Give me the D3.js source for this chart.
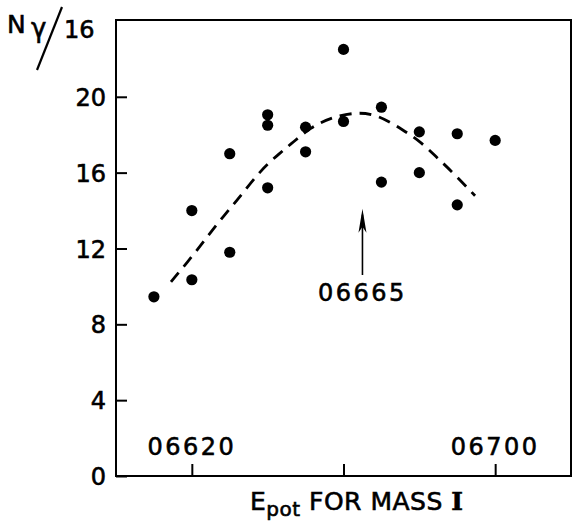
<!DOCTYPE html>
<html>
<head>
<meta charset="utf-8">
<script src="https://cdn.jsdelivr.net/npm/d3@7"></script>
<style>
  body { margin: 0; background: #fff; }
  svg { display: block; }
  text { font-family: "DejaVu Sans", sans-serif; fill: #000; stroke: #000; stroke-width: 0.6px; }
</style>
</head>
<body>
<svg id="chart"></svg>
<script>
// measured points (E_pot, N_gamma/16)
var epot = [6610, 6620, 6620, 6630, 6630, 6640, 6640, 6640, 6650, 6650,
            6660, 6660, 6670, 6670, 6680, 6680, 6690, 6690, 6700];
var ngamma = [9.45, 10.35, 14.0, 11.8, 17.0, 15.2, 18.5, 19.05, 17.1, 18.4,
              22.5, 18.7, 19.45, 15.5, 18.15, 16.0, 18.05, 14.3, 17.7];

// dashed trend curve
var curveX = [6614.5, 6620, 6624, 6628.2, 6632.7, 6638, 6643.3, 6647, 6651.2, 6656.5,
              6663.5, 6669, 6675.7, 6680.7, 6684.7, 6688.7, 6694.7];
var curveY = [10.24, 11.56, 12.6, 13.67, 14.72, 16.1, 17.05, 17.65, 18.36, 18.9,
              19.2, 19.05, 18.26, 17.57, 16.78, 16.04, 14.78];

var yTicks = [0, 4, 8, 12, 16, 20];
var xTicks = [6620, 6660, 6700];
var xTickLabels = ["06620", "", "06700"];

var marker = { x: 6665, y0: 10.6, y1: 14.1, label: "06665" };

var width = 573, height = 521;
var plotLeft = 116, plotTop = 20, plotRight = 571, plotBottom = 476;

var svg = d3.select("#chart")
  .attr("width", width)
  .attr("height", height);

var x = d3.scaleLinear().domain([6600, 6720]).range([plotLeft, plotRight]);
var y = d3.scaleLinear().domain([0, 24.05]).range([plotBottom, plotTop]);

// frame
svg.append("rect")
  .attr("x", plotLeft).attr("y", plotTop)
  .attr("width", plotRight - plotLeft).attr("height", plotBottom - plotTop)
  .attr("fill", "none").attr("stroke", "#000").attr("stroke-width", 2);

// y axis, ticks pointing in
var yAxis = svg.append("g")
  .attr("transform", "translate(" + plotLeft + ",0)")
  .call(d3.axisLeft(y).tickValues(yTicks).tickSize(-11).tickSizeOuter(0).tickPadding(10));
yAxis.select(".domain").remove();
yAxis.selectAll("line").attr("stroke-width", 2);
yAxis.selectAll("text")
  .style("font-family", "DejaVu Sans")
  .style("font-size", "24px")
  .attr("dy", "0.36em");

// x axis, ticks pointing up, labels inside the frame
var xAxis = svg.append("g")
  .attr("transform", "translate(0," + plotBottom + ")")
  .call(d3.axisBottom(x).tickValues(xTicks).tickSize(-12).tickSizeOuter(0).tickFormat(""));
xAxis.select(".domain").remove();
xAxis.selectAll("line").attr("stroke-width", 2);

svg.selectAll(".xlab")
  .data(xTicks)
  .enter()
  .append("text")
  .attr("class", "xlab")
  .attr("x", function (d) { return x(d); })
  .attr("y", plotBottom - 21)
  .attr("text-anchor", "middle")
  .style("font-size", "24px")
  .style("letter-spacing", "2.5px")
  .text(function (d, i) { return xTickLabels[i]; });

// dashed curve
var line = d3.line()
  .x(function (d, i) { return x(curveX[i]); })
  .y(function (d, i) { return y(curveY[i]); })
  .curve(d3.curveBasis);

svg.append("path")
  .datum(curveX)
  .attr("d", line)
  .attr("fill", "none")
  .attr("stroke", "#000")
  .attr("stroke-width", 2.8)
  .attr("stroke-dasharray", "12,8");

// points
svg.selectAll("circle.pt")
  .data(epot)
  .enter()
  .append("circle")
  .attr("class", "pt")
  .attr("cx", function (d) { return x(d); })
  .attr("cy", function (d, i) { return y(ngamma[i]); })
  .attr("r", 5.6)
  .attr("fill", "#000");

// arrow to 06665
var ax = x(marker.x);
svg.append("line")
  .attr("x1", ax).attr("x2", ax)
  .attr("y1", y(marker.y0)).attr("y2", y(marker.y1) + 6)
  .attr("stroke", "#000").attr("stroke-width", 1.6);
svg.append("path")
  .attr("d", "M" + ax + "," + y(marker.y1) +
             "L" + (ax + 4) + "," + (y(marker.y1) + 24) +
             "L" + ax + "," + (y(marker.y1) + 18) +
             "L" + (ax - 4) + "," + (y(marker.y1) + 24) + "Z")
  .attr("fill", "#000");
svg.append("text")
  .attr("x", ax)
  .attr("y", y(marker.y0) + 26)
  .attr("text-anchor", "middle")
  .style("font-size", "24px")
  .style("letter-spacing", "2.5px")
  .text(marker.label);

// x axis title
var xt = svg.append("text")
  .attr("x", 250)
  .attr("y", 510)
  .style("font-size", "25px")
  .style("letter-spacing", "0.5px");
xt.append("tspan").text("E");
xt.append("tspan").attr("dy", 6).style("font-size", "20px").text("pot");
xt.append("tspan").attr("dy", -6).text(" FOR MASS ");
xt.append("tspan").style("font-family", "DejaVu Serif").style("font-weight", "bold").text("I");

// y axis title N_gamma / 16
svg.append("text").attr("x", 7).attr("y", 33).style("font-size", "25px").text("N");
svg.append("text").attr("x", 31).attr("y", 37).style("font-size", "26px").text("γ");
svg.append("line")
  .attr("x1", 62).attr("y1", 7).attr("x2", 37).attr("y2", 70)
  .attr("stroke", "#000").attr("stroke-width", 2.2);
svg.append("text").attr("x", 64).attr("y", 38).style("font-size", "24px").text("16");
</script>
</body>
</html>
